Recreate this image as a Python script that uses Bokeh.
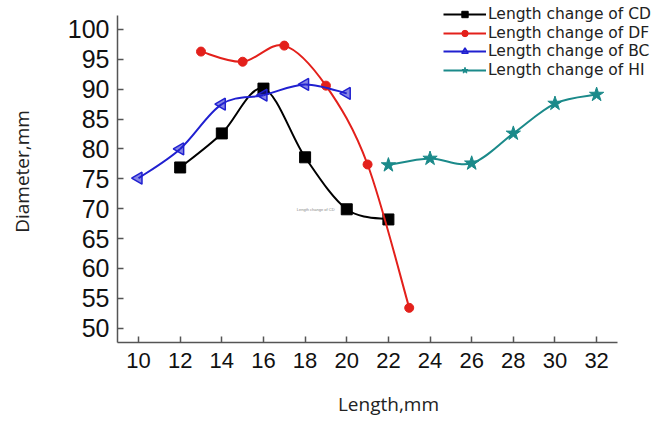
from bokeh.plotting import figure
from bokeh.models import Legend, LegendItem, Label, FixedTicker, ColumnDataSource
from bokeh.embed import file_html
from bokeh.resources import INLINE

cd_x = [12, 14, 16, 18, 20, 22]
cd_y = [76.9, 82.6, 90.1, 78.6, 69.9, 68.2]
df_x = [13, 15, 17, 19, 21, 23]
df_y = [96.3, 94.6, 97.3, 90.6, 77.4, 53.4]
bc_x = [10, 12, 14, 16, 18, 20]
bc_y = [75.1, 80.0, 87.5, 89.0, 90.8, 89.3]
hi_x = [22, 24, 26, 28, 30, 32]
hi_y = [77.3, 78.4, 77.6, 82.6, 87.6, 89.1]

labels = ["Length change of CD", "Length change of DF",
          "Length change of BC", "Length change of HI"]
x_ticks = [10, 12, 14, 16, 18, 20, 22, 24, 26, 28, 30, 32]
y_ticks = [50, 55, 60, 65, 70, 75, 80, 85, 90, 95, 100]

p = figure(width=659, height=423, output_backend="svg", toolbar_location=None,
           x_range=(8.99, 35.02), y_range=(47.6, 104.85),
           min_border_left=117, min_border_right=0, min_border_top=0,
           min_border_bottom=81)
p.outline_line_color = None
p.xgrid.visible = False
p.ygrid.visible = False
p.background_fill_color = "white"
p.border_fill_color = "white"


def smooth(xs, ys):
    # Catmull-Rom converted to cubic Bezier control points
    n = len(xs)
    x0, y0, x1, y1, cx0, cy0, cx1, cy1 = [], [], [], [], [], [], [], []
    for i in range(n - 1):
        pxm = xs[i - 1] if i > 0 else xs[i]
        pym = ys[i - 1] if i > 0 else ys[i]
        pxp = xs[i + 2] if i + 2 < n else xs[i + 1]
        pyp = ys[i + 2] if i + 2 < n else ys[i + 1]
        x0.append(xs[i]); y0.append(ys[i])
        x1.append(xs[i + 1]); y1.append(ys[i + 1])
        cx0.append(xs[i] + (xs[i + 1] - pxm) / 6.0)
        cy0.append(ys[i] + (ys[i + 1] - pym) / 6.0)
        cx1.append(xs[i + 1] - (pxp - xs[i]) / 6.0)
        cy1.append(ys[i + 1] - (pyp - ys[i]) / 6.0)
    return dict(x0=x0, y0=y0, x1=x1, y1=y1, cx0=cx0, cy0=cy0, cx1=cx1, cy1=cy1)


series = [
    (cd_x, cd_y, "black", dict(marker="square", size=11, fill_color="black", line_color="black")),
    (df_x, df_y, "#e3201b", dict(marker="circle", size=9, fill_color="#e3201b", line_color="#e3201b")),
    (bc_x, bc_y, "#2020d0", dict(marker="triangle", size=12, angle=1.5708, fill_color="#2020d0",
                                 fill_alpha=0.55, line_color="#2020d0", line_width=1.5)),
    (hi_x, hi_y, "#1b8a8a", dict(marker="star", size=15, fill_color="#1b8a8a", line_color="#1b8a8a")),
]

# legend rows: bottom of each row, measured up from the frame bottom (screen px)
row_bottoms = [319, 300, 282, 263]

for (xs, ys, col, mk), lab, bottom in zip(series, labels, row_bottoms):
    src = ColumnDataSource(smooth(xs, ys))
    bz = p.bezier(x0="x0", y0="y0", x1="x1", y1="y1", cx0="cx0", cy0="cy0",
                  cx1="cx1", cy1="cy1", source=src, line_color=col, line_width=2)
    sc = p.scatter(x=xs, y=ys, **mk)
    leg = Legend(items=[LegendItem(label=lab, renderers=[bz, sc])],
                 location=(326, bottom), orientation="vertical",
                 border_line_color=None, background_fill_alpha=0,
                 label_text_font="DejaVu Sans", label_text_font_size="15.5px",
                 label_text_color="#222222",
                 glyph_width=43, glyph_height=16, label_height=16,
                 label_standoff=2, spacing=0, padding=0, margin=0)
    p.add_layout(leg)

p.add_layout(Label(x=17.6, y=69.9, text="Length change of CD", text_font_size="4px",
                   text_color="#888888", text_baseline="middle"))

for ax in (p.xaxis[0], p.yaxis[0]):
    ax.axis_line_color = "#555555"
    ax.axis_line_width = 1.5
    ax.major_tick_line_color = "#555555"
    ax.major_tick_line_width = 1.5
    ax.major_tick_in = 6
    ax.major_tick_out = 0
    ax.minor_tick_line_color = None
    ax.major_label_text_font = "Liberation Sans"
    ax.major_label_text_color = "#111111"
    ax.axis_label_text_font = "Open Sans"
    ax.axis_label_text_font_style = "normal"
    ax.axis_label_text_font_size = "19px"
    ax.axis_label_text_color = "#222222"

p.xaxis.bounds = (8.99, 33.0)
p.yaxis.bounds = (47.6, 102.34)
p.xaxis.ticker = FixedTicker(ticks=x_ticks)
p.yaxis.ticker = FixedTicker(ticks=y_ticks)
p.xaxis.major_label_text_font_size = "22px"
p.yaxis.major_label_text_font_size = "25px"
p.xaxis.major_label_standoff = 10
p.yaxis.major_label_standoff = 8
p.xaxis.axis_label = "Length,mm"
p.yaxis.axis_label = "Diameter,mm"
p.xaxis.axis_label_standoff = 20
p.yaxis.axis_label_standoff = 30

open("out.html", "w").write(file_html(p, INLINE))
